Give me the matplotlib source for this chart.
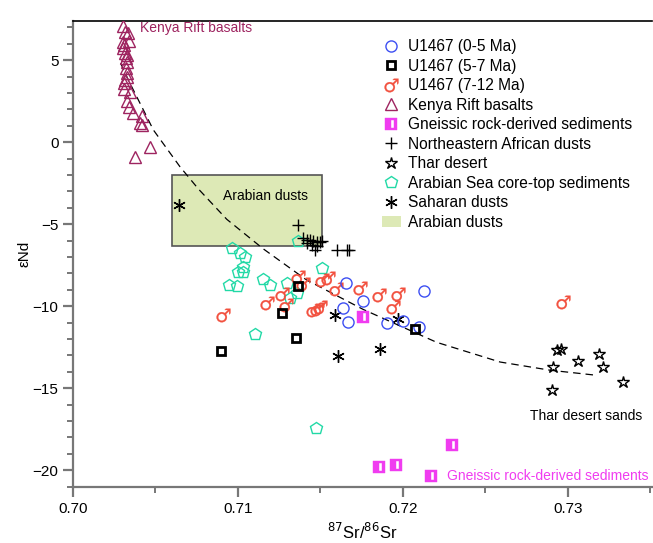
import numpy as np
import matplotlib
matplotlib.use('Agg')
import matplotlib.pyplot as plt
from matplotlib.path import Path
from matplotlib.lines import Line2D
from matplotlib.patches import Patch, Rectangle

plt.rcParams['font.family'] = ['Liberation Sans', 'DejaVu Sans']

# --- data (87Sr/86Sr, eNd) ---
u0_5_sr = [0.71653, 0.71756, 0.71638, 0.71665, 0.71901, 0.72002, 0.72099, 0.72127]
u0_5_nd = [-8.56, -9.68, -10.09, -10.94, -11.04, -10.90, -11.24, -9.07]

u5_7_sr = [0.71365, 0.71265, 0.71352, 0.70897, 0.72073]
u5_7_nd = [-8.76, -10.43, -11.95, -12.73, -11.40]

u7_12_sr = [0.70911, 0.71174, 0.71268, 0.71291, 0.71362, 0.71394, 0.71508, 0.71547,
            0.71594, 0.71739, 0.71856, 0.71968, 0.71938, 0.71456, 0.71477, 0.71497, 0.72972]
u7_12_nd = [-10.53, -9.78, -9.27, -9.92, -8.20, -8.64, -8.39, -8.29,
            -8.96, -8.90, -9.31, -9.25, -10.06, -10.23, -10.16, -10.04, -9.72]

kenya_sr = [0.70301, 0.70315, 0.70335, 0.70305, 0.70309, 0.70301, 0.70315, 0.70321,
            0.70325, 0.70325, 0.70329, 0.70315, 0.70309, 0.70345, 0.70325, 0.70341,
            0.70365, 0.70416, 0.70406, 0.70416, 0.70467, 0.70376, 0.70320, 0.70310,
            0.70330, 0.70340]
kenya_nd = [7.09, 6.74, 6.68, 6.13, 5.93, 5.73, 5.43, 5.12,
            4.91, 4.21, 4.00, 3.80, 3.23, 3.09, 2.54, 2.17,
            1.80, 1.60, 1.16, 1.05, -0.27, -0.88, 4.50, 3.60,
            5.30, 6.20]

gneiss_sr = [0.72295, 0.71856, 0.71956, 0.72168, 0.71756]
gneiss_nd = [-18.46, -19.78, -19.68, -20.33, -10.63]

nea_sr = [0.71366, 0.71396, 0.71416, 0.71436, 0.71456, 0.71477, 0.71497, 0.71416,
          0.71447, 0.71477, 0.71507, 0.71467, 0.71598, 0.71659, 0.71675]
nea_nd = [-5.04, -5.85, -5.96, -5.96, -6.00, -6.06, -6.06, -6.16,
          -6.26, -6.32, -6.02, -6.57, -6.57, -6.57, -6.57]

thar_sr = [0.72932, 0.72958, 0.72907, 0.73062, 0.73188, 0.73214, 0.73335, 0.72905]
thar_nd = [-12.66, -12.60, -13.72, -13.32, -12.91, -13.68, -14.63, -15.10]

arsea_sr = [0.70962, 0.71012, 0.71042, 0.71032, 0.71002, 0.71032, 0.70947, 0.70992,
            0.71150, 0.71194, 0.71299, 0.71315, 0.71356, 0.71507, 0.71103, 0.71366,
            0.71473]
arsea_nd = [-6.46, -6.77, -7.01, -7.58, -7.89, -7.89, -8.70, -8.76,
            -8.35, -8.70, -8.56, -9.51, -9.21, -7.68, -11.71, -6.00,
            -17.42]

sahara_sr = [0.70642, 0.71588, 0.71608, 0.71861, 0.71972]
sahara_nd = [-3.83, -10.52, -13.03, -12.62, -10.79]

# Arabian dusts field
arab_sr = [0.70598, 0.71507]
arab_nd = [-6.32, -1.99]

# mixing curve
mix_sr = [0.70289, 0.70335, 0.70406, 0.70487, 0.70648, 0.70760, 0.70932, 0.71153,
          0.71305, 0.71416, 0.71760, 0.72204, 0.72588, 0.72891, 0.73164]
mix_nd = [4.82, 3.80, 2.38, 0.75, -1.49, -2.85, -4.70, -6.50,
          -7.60, -8.40, -10.20, -12.20, -13.40, -13.90, -14.20]

blue = '#3d4ff2'
red = '#f2503e'
maroon = '#9e2460'
teal = '#22d9a6'
magenta = '#f03cf0'

# gneiss marker: filled square with a white bar
outer = [(-1, -1), (1, -1), (1, 1), (-1, 1), (-1, -1)]
inner = [(0.05, -0.7), (0.05, 0.7), (0.55, 0.7), (0.55, -0.7), (0.05, -0.7)]
gmark = Path(outer + inner,
             [Path.MOVETO] + [Path.LINETO] * 3 + [Path.CLOSEPOLY] +
             [Path.MOVETO] + [Path.LINETO] * 3 + [Path.CLOSEPOLY])

fig = plt.figure(figsize=(6.53, 5.43), dpi=100)
ax = fig.add_axes([73 / 653, 55.7 / 543, 0.8869, 0.8593])

ax.add_patch(Rectangle((arab_sr[0], arab_nd[0]), arab_sr[1] - arab_sr[0], arab_nd[1] - arab_nd[0],
                       facecolor='#dde9b6', edgecolor='#555555', lw=1.2, zorder=1))
ax.text(0.71164, -3.28, 'Arabian dusts', ha='center', va='center', fontsize=10)

ax.plot(mix_sr, mix_nd, color='black', lw=0.9, dashes=(6, 4), zorder=2)

kw = dict(linestyle='none', zorder=3)
ax.plot(kenya_sr, kenya_nd, marker='^', ms=8, mfc='none', mec=maroon, mew=1, **kw)
ax.plot(arsea_sr, arsea_nd, marker='p', ms=9, mfc='none', mec=teal, mew=1, **kw)
ax.plot(nea_sr, nea_nd, marker='+', ms=9, mec='black', mew=1, **kw)
ax.plot(sahara_sr, sahara_nd, marker=(6, 2, 0), ms=9, mec='black', mew=1, **kw)
ax.plot(thar_sr, thar_nd, marker='*', ms=9, mfc='none', mec='black', mew=1, **kw)
ax.plot(u7_12_sr, u7_12_nd, marker='$\u2642$', ms=10, mfc=red, mec=red, mew=0.2, **kw)
ax.plot(u0_5_sr, u0_5_nd, marker='o', ms=8, mfc='none', mec=blue, mew=1, **kw)
ax.plot(u5_7_sr, u5_7_nd, marker='s', ms=6, mfc='none', mec='black', mew=2, **kw)
ax.plot(gneiss_sr, gneiss_nd, marker=gmark, ms=8.5, mfc=magenta, mec=magenta, mew=0.3, **kw)

ax.text(0.70406, 6.97, 'Kenya Rift basalts', color=maroon, ha='left', va='center', fontsize=10)
ax.text(0.73108, -16.69, 'Thar desert sands', color='black', ha='center', va='center', fontsize=10)
ax.text(0.72268, -20.33, 'Gneissic rock-derived sediments', color=magenta, ha='left', va='center', fontsize=10)

ax.set_xlim(0.70, 0.7351)
ax.set_ylim(-21.04, 7.41)
ax.set_xticks([0.70, 0.71, 0.72, 0.73])
ax.set_xticklabels(['0.70', '0.71', '0.72', '0.73'])
ax.set_xticks([0.705, 0.715, 0.725, 0.735], minor=True)
ax.set_yticks([5, 0, -5, -10, -15, -20])
ax.set_yticks(np.arange(-21, 8, 1), minor=True)

for s in ['left', 'bottom']:
    ax.spines[s].set_color('#777777')
    ax.spines[s].set_linewidth(1.6)
ax.spines['top'].set_color('black')
ax.spines['top'].set_linewidth(1.2)
ax.spines['right'].set_visible(False)
ax.tick_params(which='major', length=7, width=1.6, color='#777777', labelsize=11, direction='out')
ax.tick_params(which='minor', length=4, width=1.4, color='#777777', direction='out')
ax.tick_params(axis='x', top=False)

ax.set_xlabel(r'$^{87}$Sr/$^{86}$Sr', fontsize=12, labelpad=4)
ax.set_ylabel('\u03b5Nd', fontsize=11, labelpad=1)

handles = [
    Line2D([], [], linestyle='none', marker='o', ms=8, mfc='none', mec=blue, mew=1),
    Line2D([], [], linestyle='none', marker='s', ms=6, mfc='none', mec='black', mew=2),
    Line2D([], [], linestyle='none', marker='$\u2642$', ms=10, mfc=red, mec=red, mew=0.2),
    Line2D([], [], linestyle='none', marker='^', ms=8, mfc='none', mec=maroon, mew=1),
    Line2D([], [], linestyle='none', marker=gmark, ms=8.5, mfc=magenta, mec=magenta, mew=0.3),
    Line2D([], [], linestyle='none', marker='+', ms=9, mec='black', mew=1),
    Line2D([], [], linestyle='none', marker='*', ms=9, mfc='none', mec='black', mew=1),
    Line2D([], [], linestyle='none', marker='p', ms=9, mfc='none', mec=teal, mew=1),
    Line2D([], [], linestyle='none', marker=(6, 2, 0), ms=9, mec='black', mew=1),
    Patch(facecolor='#dde9b6', edgecolor='none'),
]
labels = ['U1467 (0-5 Ma)', 'U1467 (5-7 Ma)', 'U1467 (7-12 Ma)', 'Kenya Rift basalts',
          'Gneissic rock-derived sediments', 'Northeastern African dusts', 'Thar desert',
          'Arabian Sea core-top sediments', 'Saharan dusts', 'Arabian dusts']
fig.legend(handles, labels, loc='upper left', bbox_to_anchor=(382 / 653, 1 - 39 / 543),
           frameon=False, fontsize=11.2, handlelength=1.2, handletextpad=0.45,
           labelspacing=0.29, borderpad=0, borderaxespad=0)

fig.savefig('out.png', dpi=100)
